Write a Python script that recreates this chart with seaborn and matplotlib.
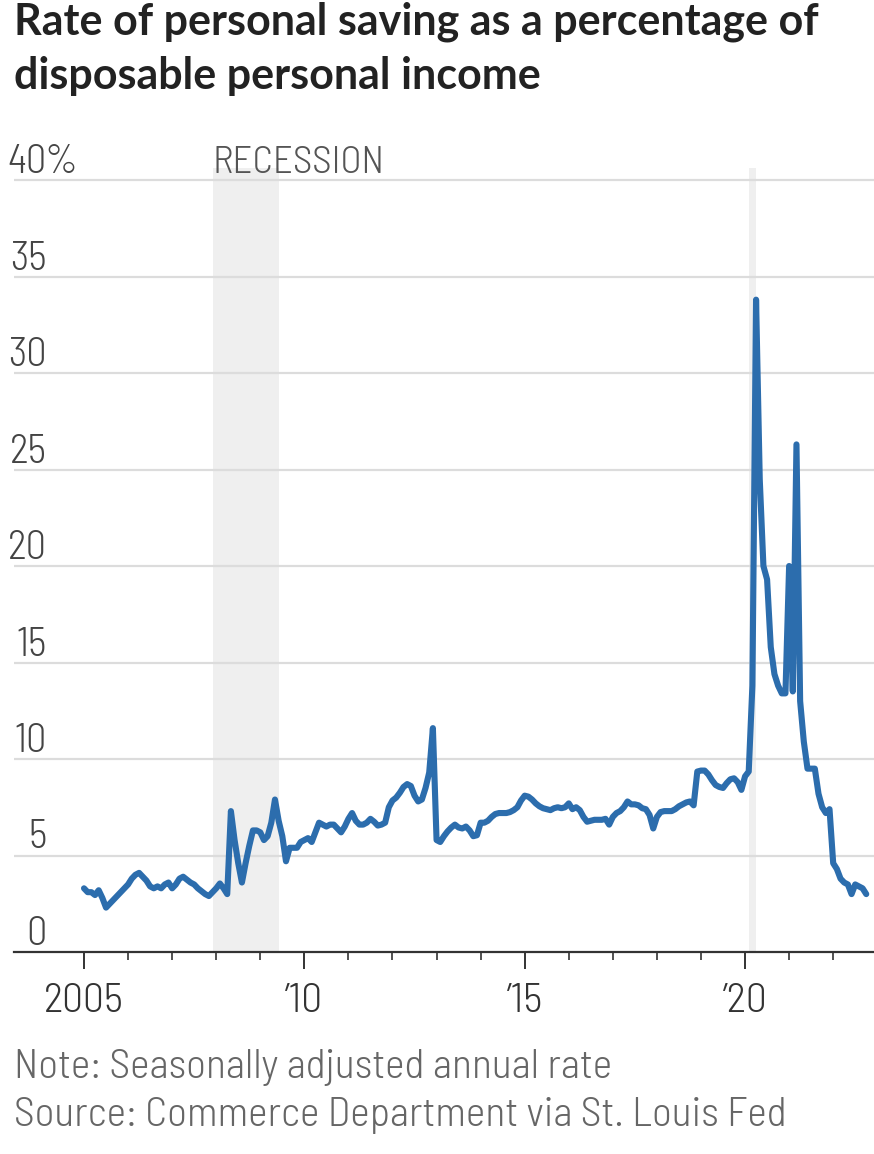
import numpy as np
import pandas as pd
import matplotlib
matplotlib.use("Agg")
import matplotlib.pyplot as plt
import matplotlib.transforms as mtransforms
import seaborn as sns

# ---------------- data (monthly, starting Jan 2005) ----------------
start_year = 2005
saving_2005 = [3.3, 3.1, 3.1, 2.95, 3.2, 2.8, 2.3, 2.5, 2.7, 2.9, 3.1, 3.3]
saving_2006 = [3.5, 3.8, 4.0, 4.1, 3.9, 3.7, 3.4, 3.3, 3.4, 3.3, 3.5, 3.6]
saving_2007 = [3.3, 3.5, 3.8, 3.9, 3.75, 3.6, 3.5, 3.3, 3.15, 3.0, 2.9, 3.1]
saving_2008 = [3.3, 3.55, 3.3, 3.0, 7.3, 5.8, 4.6, 3.6, 4.6, 5.5, 6.3, 6.3]
saving_2009 = [6.2, 5.8, 6.0, 6.7, 7.9, 6.8, 6.0, 4.7, 5.4, 5.4, 5.4, 5.7]
saving_2010 = [5.8, 5.9, 5.7, 6.2, 6.7, 6.6, 6.5, 6.6, 6.6, 6.4, 6.2, 6.5]
saving_2011 = [6.9, 7.2, 6.8, 6.6, 6.6, 6.7, 6.9, 6.75, 6.55, 6.6, 6.7, 7.5]
saving_2012 = [7.85, 8.0, 8.25, 8.55, 8.7, 8.6, 8.1, 7.8, 7.9, 8.5, 9.3, 11.6]
saving_2013 = [5.8, 5.7, 6.0, 6.25, 6.45, 6.6, 6.45, 6.4, 6.5, 6.3, 6.0, 6.05]
saving_2014 = [6.7, 6.7, 6.8, 7.0, 7.15, 7.2, 7.2, 7.2, 7.25, 7.35, 7.5, 7.85]
saving_2015 = [8.1, 8.05, 7.9, 7.7, 7.55, 7.45, 7.4, 7.35, 7.45, 7.5, 7.45, 7.5]
saving_2016 = [7.7, 7.4, 7.5, 7.35, 7.0, 6.75, 6.8, 6.85, 6.85, 6.85, 6.9, 6.6]
saving_2017 = [7.0, 7.2, 7.3, 7.5, 7.8, 7.65, 7.65, 7.6, 7.45, 7.4, 7.1, 6.4]
saving_2018 = [7.0, 7.25, 7.3, 7.3, 7.3, 7.4, 7.55, 7.65, 7.75, 7.8, 7.6, 9.35]
saving_2019 = [9.4, 9.4, 9.2, 8.9, 8.65, 8.55, 8.5, 8.75, 8.95, 9.0, 8.8, 8.4]
saving_2020 = [9.1, 9.35, 13.8, 33.8, 24.5, 20.0, 19.3, 15.8, 14.4, 13.8, 13.4, 13.4]
saving_2021 = [20.0, 13.5, 26.3, 13.0, 10.9, 9.5, 9.5, 9.5, 8.2, 7.5, 7.2, 7.4]
saving_2022 = [4.6, 4.3, 3.8, 3.6, 3.5, 3.0, 3.5, 3.4, 3.3, 3.0]

y_ticks = [0, 5, 10, 15, 20, 25, 30, 35, 40]
x_major = [2005, 2010, 2015, 2020]
x_major_labels = ["2005", "\u201910", "\u201915", "\u201920"]
recessions = [(2007 + 11 / 12, 2009 + 5 / 12), (2020 + 1 / 12, 2020 + 3 / 12)]

title = "Rate of personal saving as a percentage of\ndisposable personal income"
note = "Note: Seasonally adjusted annual rate"
source = "Source: Commerce Department via St. Louis Fed"

values = (saving_2005 + saving_2006 + saving_2007 + saving_2008 + saving_2009 +
          saving_2010 + saving_2011 + saving_2012 + saving_2013 + saving_2014 +
          saving_2015 + saving_2016 + saving_2017 + saving_2018 + saving_2019 +
          saving_2020 + saving_2021 + saving_2022)
dates = pd.date_range(f"{start_year}-01-01", periods=len(values), freq="MS")
df = pd.DataFrame({"t": dates.year + (dates.month - 1) / 12.0, "rate": values})

# ---------------- style ----------------
sns.set_theme(style="white")
narrow = ["Barlow Semi Condensed", "DejaVu Sans"]
plt.rcParams["font.family"] = narrow
NW = 300  # light weight for condensed labels

W, H = 874, 1154
fig = plt.figure(figsize=(W / 100, H / 100), dpi=100)
fig.patch.set_facecolor("white")

px_per_pct = 19.3
y_zero_px = 952
ytop = 40.6
ax_left_px, ax_right_px = 14, 874
ax = fig.add_axes([ax_left_px / W, 1 - y_zero_px / H,
                   (ax_right_px - ax_left_px) / W, ytop * px_per_pct / H])
ax.set_facecolor("white")

px_per_year = 44.07
x0 = 2005 - (84 - ax_left_px) / px_per_year
x1 = 2005 + (ax_right_px - 84) / px_per_year
ax.set_xlim(x0, x1)
ax.set_ylim(0, ytop)

for a, b in recessions:
    ax.axvspan(a, b, color="#efefef", lw=0, zorder=0)

for v in y_ticks[1:]:
    ax.axhline(v, color="#dcdcdc", lw=1.6, zorder=1)

sns.lineplot(data=df, x="t", y="rate", ax=ax, color="#2c6dad", lw=4.4,
             zorder=3)

for s in ["top", "right", "left"]:
    ax.spines[s].set_visible(False)
ax.spines["bottom"].set_color("#333333")
ax.spines["bottom"].set_linewidth(1.6)

ax.set_yticks([])
ax.set_xticks(x_major)
ax.set_xticklabels(x_major_labels, fontsize=30, color="#333333", fontweight=NW)
ax.set_xticks(list(range(2005, 2023)), minor=True)
ax.tick_params(axis="x", which="major", direction="out", length=12, width=1.4,
               color="#333333", pad=10, bottom=True)
ax.tick_params(axis="x", which="minor", direction="out", length=6, width=1.2,
               color="#333333", bottom=True)
ax.set_xlabel("")
ax.set_ylabel("")

# y labels drawn above gridlines
trans = mtransforms.blended_transform_factory(fig.transFigure, ax.transData)
up = mtransforms.ScaledTranslation(0, 7 / 100, fig.dpi_scale_trans)
pct_shift = mtransforms.ScaledTranslation(-3 / 100, 7 / 100, fig.dpi_scale_trans)
lab_x = 47 / W
for v in y_ticks:
    ax.text(lab_x, v, str(v), transform=trans + up, ha="right", va="baseline",
            fontsize=29, color="#444444", fontweight=NW)
ax.text(lab_x, 40, "%", transform=trans + pct_shift, ha="left", va="baseline",
        fontsize=29, color="#444444", fontweight=NW)
ax.text(recessions[0][0], 40, "RECESSION", transform=ax.transData + up,
        ha="left", va="baseline", fontsize=28, color="#555555", fontweight=NW)

fig.text(14 / W, 1 - 2 / H, title, ha="left", va="top", fontsize=31,
         fontweight="bold", color="#222222", linespacing=1.42,
         family=["Lato", "DejaVu Sans"])
fig.text(14 / W, 1 - 1067 / H, note, ha="left", va="center", fontsize=30,
         color="#666666", fontweight=NW)
fig.text(14 / W, 1 - 1115 / H, source, ha="left", va="center", fontsize=30,
         color="#666666", fontweight=NW)

fig.savefig("out.png", dpi=100, facecolor="white")
